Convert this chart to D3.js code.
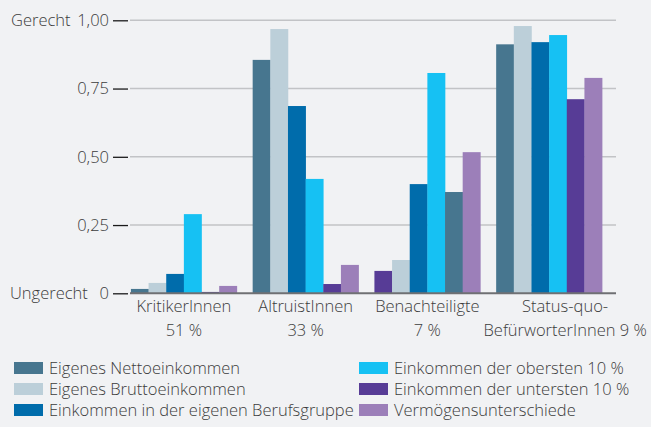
<!DOCTYPE html>
<html>
<head>
<meta charset="utf-8">
<script src="https://cdn.jsdelivr.net/npm/d3@7"></script>
<style>
  body { margin: 0; background: #f1f2f4; }
  svg { display: block; }
  .lbl { fill: #3c3c3c; font-family: "Open Sans", sans-serif; font-weight: 300; font-size: 16.5px; }
  .leg { fill: #3c3c3c; font-family: "Open Sans", sans-serif; font-weight: 300; font-size: 16.5px; }
</style>
</head>
<body>
<svg></svg>
<script>
// groups and their sublabels
const groups = ["KritikerInnen", "AltruistInnen", "Benachteiligte", "Status-quo-"];
const groupShares = ["51 %", "33 %", "7 %", "BefürworterInnen 9 %"];

// series (same order as in the legend)
const seriesKeys = ["netto", "brutto", "beruf", "oben", "unten", "verm"];
const seriesNames = [
  "Eigenes Nettoeinkommen",
  "Eigenes Bruttoeinkommen",
  "Einkommen in der eigenen Berufsgruppe",
  "Einkommen der obersten 10 %",
  "Einkommen der untersten 10 %",
  "Vermögensunterschiede"
];
const seriesColors = ["#47768f", "#bccfd9", "#006cab", "#16c1f3", "#573c96", "#9c7fb9"];

// values per series, one per group
const netto  = [0.016, 0.855, 0.371, 0.912];
const brutto = [0.038, 0.968, 0.122, 0.979];
const beruf  = [0.071, 0.686, 0.400, 0.920];
const oben   = [0.290, 0.419, 0.807, 0.946];
const unten  = [0.005, 0.034, 0.082, 0.711];
const verm   = [0.027, 0.104, 0.517, 0.789];

// bar order inside each group (the Benachteiligte group is drawn in another order)
const barOrder = [
  ["netto", "brutto", "beruf", "oben", "unten", "verm"],
  ["netto", "brutto", "beruf", "oben", "unten", "verm"],
  ["unten", "brutto", "beruf", "oben", "netto", "verm"],
  ["netto", "brutto", "beruf", "oben", "unten", "verm"]
];

const yTicks = [0, 0.25, 0.5, 0.75, 1];

const values = { netto, brutto, beruf, oben, unten, verm };
const color = d3.scaleOrdinal().domain(seriesKeys).range(seriesColors);

const width = 651, height = 427;
const svg = d3.select("svg").attr("width", width).attr("height", height);

const x = d3.scaleBand()
  .domain(groups)
  .range([123, 610])
  .paddingInner(0.13)
  .paddingOuter(0.065);

const y = d3.scaleLinear().domain([0, 1]).range([293.3, 20.3]);

// gridlines
svg.append("g")
  .selectAll("line")
  .data(yTicks.filter(d => d > 0))
  .join("line")
  .attr("x1", 130).attr("x2", 616)
  .attr("y1", d => y(d)).attr("y2", d => y(d))
  .attr("stroke", "#c2c3c6")
  .attr("stroke-width", 1.5);

// y axis
const yAxis = svg.append("g")
  .attr("transform", "translate(128,0)")
  .call(d3.axisLeft(y).tickValues(yTicks).tickSize(15).tickPadding(4)
    .tickFormat(d => d === 0 ? "0" : d3.format(".2f")(d).replace(".", ",")));
yAxis.select(".domain").remove();
yAxis.selectAll(".tick line").attr("stroke", "#1a1a1a").attr("stroke-width", 1.3);
yAxis.selectAll(".tick text").attr("class", "lbl").attr("fill", null);

svg.append("text").attr("class", "lbl").attr("x", 11).attr("y", y(1)).attr("dy", "0.32em").text("Gerecht");
svg.append("text").attr("class", "lbl").attr("x", 10).attr("y", y(0)).attr("dy", "0.32em").text("Ungerecht");

// bars
groups.forEach((g, gi) => {
  const inner = d3.scaleBand().domain(barOrder[gi]).range([0, x.bandwidth()]);
  svg.append("g")
    .attr("transform", `translate(${x(g)},0)`)
    .selectAll("rect")
    .data(barOrder[gi])
    .join("rect")
    .attr("x", k => inner(k))
    .attr("width", inner.bandwidth() + 0.3)
    .attr("y", k => y(values[k][gi]))
    .attr("height", k => y(0) - y(values[k][gi]))
    .attr("fill", k => color(k));
});

// baseline
svg.append("line")
  .attr("x1", 130).attr("x2", 616)
  .attr("y1", y(0)).attr("y2", y(0))
  .attr("stroke", "#6f7073")
  .attr("stroke-width", 2);

// group labels
groups.forEach((g, gi) => {
  const cx = x(g) + x.bandwidth() / 2 + (gi === 3 ? 16 : 0);
  const t = svg.append("text").attr("class", "lbl").attr("text-anchor", "middle");
  t.append("tspan").attr("x", cx).attr("y", 312).text(g);
  t.append("tspan").attr("x", cx).attr("y", 336).text(groupShares[gi]);
});

// legend
const legend = svg.append("g")
  .selectAll("g")
  .data(seriesKeys)
  .join("g")
  .attr("transform", (d, i) => `translate(${i < 3 ? 14 : 359},${362 + (i % 3) * 21})`);
legend.append("rect").attr("width", 29).attr("height", 12).attr("fill", d => color(d));
legend.append("text").attr("class", "leg").attr("x", 35).attr("y", 6).attr("dy", "0.35em")
  .text((d, i) => seriesNames[i]);
</script>
</body>
</html>
